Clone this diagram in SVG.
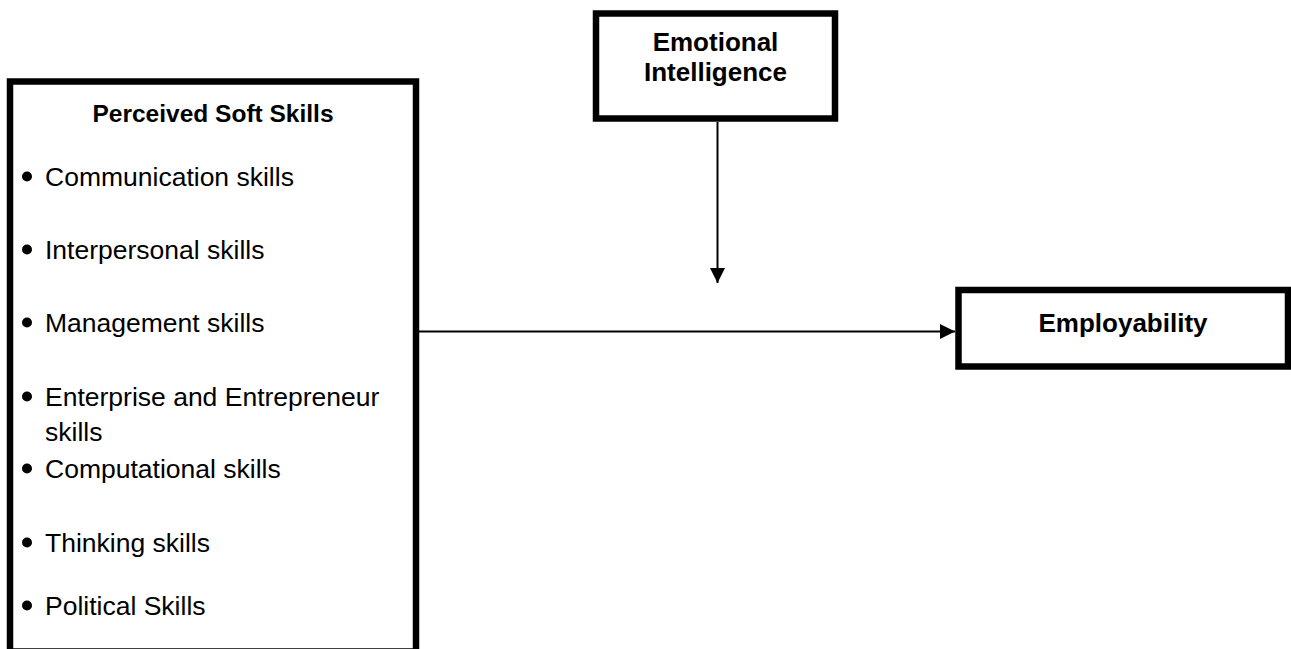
<svg xmlns="http://www.w3.org/2000/svg" width="1291" height="649" viewBox="0 0 1291 649">
<style>
.box{fill:#fff;stroke:#000;stroke-width:6.5}
.conn{stroke:#000;stroke-width:2;fill:none}
.h{font-family:"Liberation Sans",Arial,sans-serif;font-weight:bold;font-size:24.5px;fill:#000}
.hb{font-family:"Liberation Sans",Arial,sans-serif;font-weight:bold;font-size:26px;fill:#000}
.t{font-family:"Liberation Sans",Arial,sans-serif;font-size:26.5px;fill:#000}
</style>
<defs>
<marker id="ah" markerUnits="userSpaceOnUse" markerWidth="15" markerHeight="15" refX="15" refY="7.5" orient="auto">
<path d="M0,0 L15,7.5 L0,15 z" fill="#000"/>
</marker>
</defs>
<rect width="1291" height="649" fill="#fff"/>
<g id="connectors">
<line class="conn" x1="419" y1="331.5" x2="955" y2="331.5" marker-end="url(#ah)"/>
<line class="conn" x1="717.5" y1="122" x2="717.5" y2="283" marker-end="url(#ah)"/>
</g>
<g id="soft-skills">
<rect class="box" x="10" y="81.5" width="406" height="570"/>
<text class="h" x="213" y="121.5" text-anchor="middle">Perceived Soft Skills</text>
<g fill="#000">
<circle cx="27" cy="176.5" r="5"/>
<circle cx="27" cy="249.5" r="5"/>
<circle cx="27" cy="322.5" r="5"/>
<circle cx="27" cy="396.5" r="5"/>
<circle cx="27" cy="468.5" r="5"/>
<circle cx="27" cy="542.5" r="5"/>
<circle cx="27" cy="605.5" r="5"/>
</g>
<text class="t" x="45" y="186">Communication skills</text>
<text class="t" x="45" y="259">Interpersonal skills</text>
<text class="t" x="45" y="332">Management skills</text>
<text class="t" x="45" y="406">Enterprise and Entrepreneur</text>
<text class="t" x="45" y="441">skills</text>
<text class="t" x="45" y="478">Computational skills</text>
<text class="t" x="45" y="552">Thinking skills</text>
<text class="t" x="45" y="615">Political Skills</text>
</g>
<g id="emotional-intelligence">
<rect class="box" x="596" y="13.5" width="239" height="105"/>
<text class="hb" x="715.5" y="51" text-anchor="middle">Emotional</text>
<text class="hb" x="715.5" y="81" text-anchor="middle">Intelligence</text>
</g>
<g id="employability">
<rect class="box" x="958.5" y="290" width="329.5" height="76.5"/>
<text class="hb" x="1123" y="332" text-anchor="middle">Employability</text>
</g>
</svg>
